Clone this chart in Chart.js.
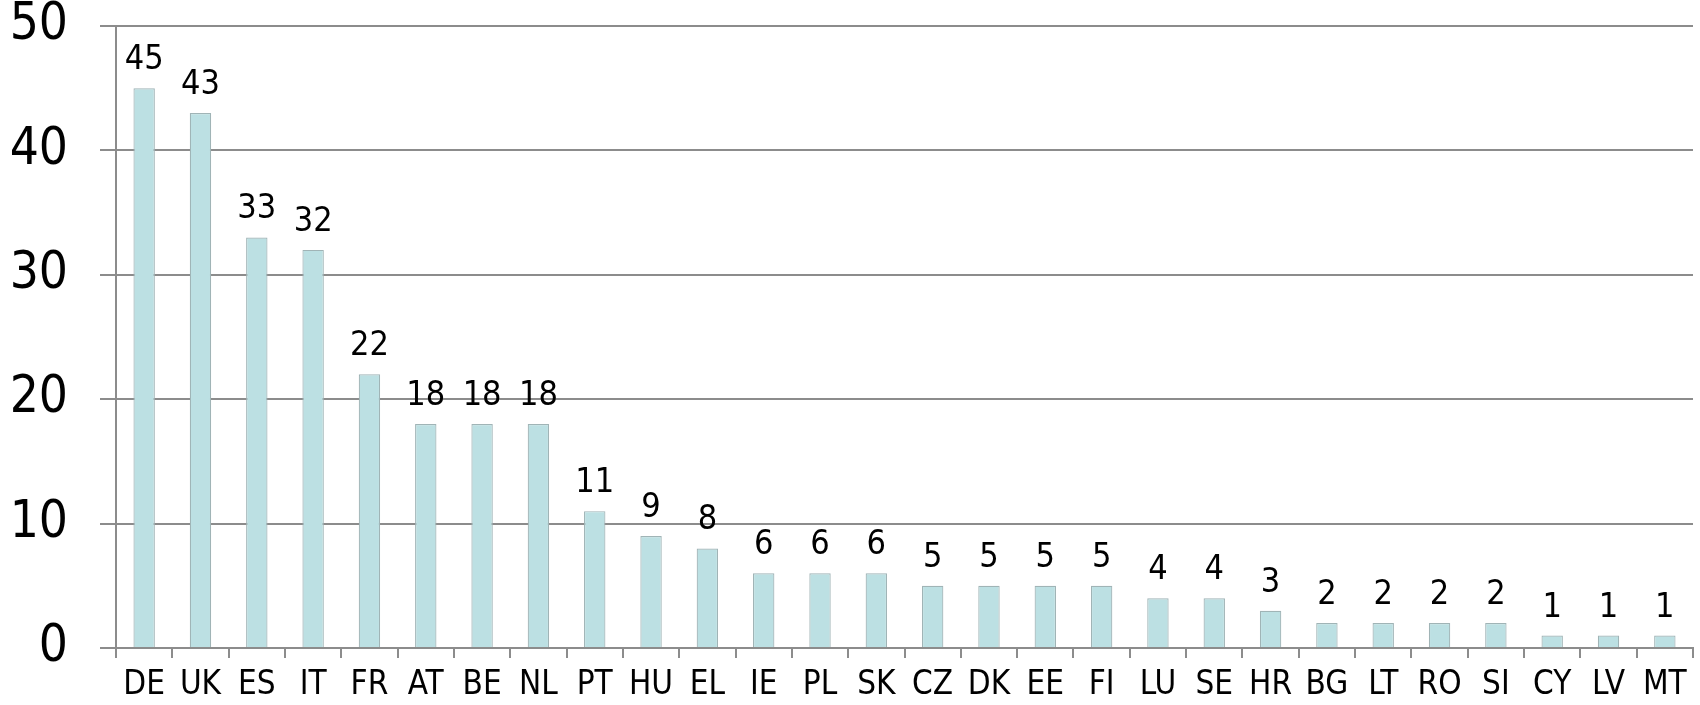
<!DOCTYPE html>
<html>
<head>
<meta charset="utf-8">
<script src="https://cdn.jsdelivr.net/npm/chart.js@4"></script>
<style>
  html, body { margin: 0; padding: 0; background: #fff; }
  #wrap { width: 1700px; height: 705px; }
</style>
</head>
<body>
<div id="wrap"><canvas id="barChart" width="1700" height="705"></canvas></div>
<script>
// Chart data
const countries = ['DE', 'UK', 'ES', 'IT', 'FR', 'AT', 'BE', 'NL', 'PT', 'HU', 'EL', 'IE', 'PL', 'SK',
    'CZ', 'DK', 'EE', 'FI', 'LU', 'SE', 'HR', 'BG', 'LT', 'RO', 'SI', 'CY', 'LV', 'MT'];
const counts = [45, 43, 33, 32, 22, 18, 18, 18, 11, 9, 8, 6, 6, 6,
    5, 5, 5, 5, 4, 4, 3, 2, 2, 2, 2, 1, 1, 1];
const yTicks = [0, 10, 20, 30, 40, 50];

const fontFamily = '"DejaVu Sans Condensed", "DejaVu Sans", Verdana, sans-serif';
const gridColor = '#8c8c8c';

// draws the value above each bar
const valueLabels = {
    id: 'valueLabels',
    afterDatasetsDraw(chart) {
        const ctx = chart.ctx;
        const meta = chart.getDatasetMeta(0);
        ctx.save();
        ctx.font = '34px ' + fontFamily;
        ctx.fillStyle = '#000';
        ctx.textAlign = 'center';
        ctx.textBaseline = 'alphabetic';
        meta.data.forEach((bar, i) => {
            ctx.fillText(String(counts[i]), bar.x, bar.y - 19);
        });
        ctx.restore();
    }
};

const ctx = document.getElementById('barChart').getContext('2d');

let barChart = new Chart(ctx, {
    type: 'bar',
    data: {
        labels: countries,
        datasets: [{
            data: counts,
            backgroundColor: '#bce0e3',
            borderColor: '#a0b4b6',
            borderWidth: 1.2,
            categoryPercentage: 1,
            barPercentage: 0.38
        }]
    },
    options: {
        responsive: false,
        animation: false,
        layout: { padding: { left: 0, right: 7, top: 26, bottom: 0 } },
        plugins: {
            legend: { display: false },
            tooltip: { enabled: false }
        },
        scales: {
            x: {
                offset: true,
                grid: {
                    offset: true,
                    drawOnChartArea: false,
                    drawTicks: true,
                    tickLength: 10,
                    color: gridColor,
                    lineWidth: 2
                },
                border: { color: gridColor, width: 2 },
                ticks: {
                    color: '#000',
                    padding: 8,
                    maxRotation: 0,
                    autoSkip: false,
                    font: { family: fontFamily, size: 33 }
                },
                afterFit(scale) { scale.height = 57; }
            },
            y: {
                min: 0,
                max: 50,
                afterBuildTicks(scale) {
                    scale.ticks = yTicks.map(v => ({ value: v }));
                },
                grid: {
                    color: gridColor,
                    lineWidth: 2,
                    tickLength: 16
                },
                border: { color: gridColor, width: 2 },
                ticks: {
                    color: '#000',
                    padding: 32,
                    font: { family: fontFamily, size: 51 }
                },
                afterFit(scale) {
                    scale.width = 116;
                    scale.paddingTop = 0;
                    scale.paddingBottom = 0;
                }
            }
        }
    },
    plugins: [valueLabels]
});
</script>
</body>
</html>
